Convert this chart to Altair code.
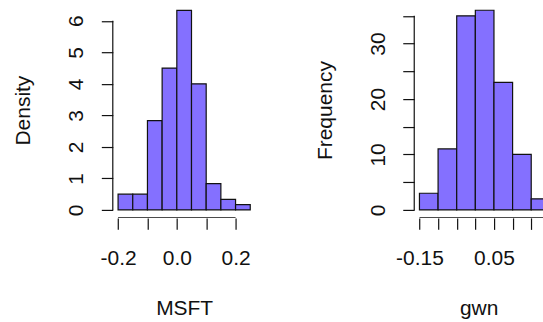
import altair as alt
import pandas as pd

# ---- data ----
msft_bin_start = [-0.20, -0.15, -0.10, -0.05, 0.00, 0.05, 0.10, 0.15, 0.20]
msft_density = [0.5, 0.5, 2.8333, 4.5, 6.3333, 4.0, 0.8333, 0.3333, 0.1667]
gwn_bin_start = [-0.15, -0.10, -0.05, 0.00, 0.05, 0.10, 0.15]
gwn_count = [3, 11, 35, 36, 23, 10, 2]
bin_width = 0.05

msft_x_ticks = [-0.2, -0.1, 0.0, 0.1, 0.2]
msft_x_labels = ["-0.2", "", "0.0", "", "0.2"]
msft_y_ticks = [0, 1, 2, 3, 4, 5, 6]
msft_y_labels = ["0", "1", "2", "3", "4", "5", "6"]
gwn_x_ticks = [-0.15, -0.10, -0.05, 0.00, 0.05, 0.10, 0.15]
gwn_x_labels = ["-0.15", "", "", "", "0.05", "", ""]
gwn_y_ticks = [0, 5, 10, 15, 20, 25, 30, 35]
gwn_y_labels = ["0", "", "10", "", "20", "", "30", ""]

FILL = "#8470FF"
FONT = "Liberation Sans"
FS = 21
TICK = 11.5


def label_expr(ticks, labels):
    expr = "''"
    for t, l in reversed(list(zip(ticks, labels))):
        expr = f"datum.value == {t!r} ? '{l}' : ({expr})"
    return expr


def panel(starts, values, xticks, xlabels, yticks, ylabels, xdom, ydom,
          xtitle, ytitle, width, height, xline_end):
    bars = pd.DataFrame({
        "x": starts,
        "x2": [s + bin_width for s in starts],
        "y": values,
    })
    xs = alt.Scale(domain=xdom, nice=False, zero=False)
    ys = alt.Scale(domain=ydom, nice=False, zero=False)
    xaxis = alt.Axis(values=xticks, labelExpr=label_expr(xticks, xlabels),
                     domain=False, grid=False, tickSize=TICK, tickColor="#111",
                     tickWidth=1.2, labelFont=FONT, labelFontSize=FS,
                     labelColor="#111", labelBaseline="alphabetic",
                     labelPadding=35, labelFlush=False, labelOverlap=False,
                     title=xtitle, titleFont=FONT, titleFontSize=FS,
                     titleFontWeight="normal", titleColor="#111",
                     titleBaseline="alphabetic", titleY=97)
    yaxis = alt.Axis(values=yticks, labelExpr=label_expr(yticks, ylabels),
                     domain=False, grid=False, tickSize=TICK, tickColor="#111",
                     tickWidth=1.2, labelFont=FONT, labelFontSize=FS,
                     labelColor="#111", labelAngle=270, labelAlign="center",
                     labelBaseline="alphabetic", labelPadding=18.5,
                     labelFlush=False, labelOverlap=False,
                     title=ytitle, titleFont=FONT, titleFontSize=FS,
                     titleFontWeight="normal", titleColor="#111",
                     titleAngle=270, titleAlign="center",
                     titleBaseline="alphabetic", titleX=-83)
    bar = alt.Chart(bars).mark_bar(
        fill=FILL, stroke="#111", strokeWidth=1.2, clip=True
    ).encode(
        x=alt.X("x:Q", scale=xs, axis=xaxis),
        x2="x2:Q",
        y=alt.Y("y:Q", scale=ys, axis=yaxis),
        y2=alt.datum(0),
    )
    yline = alt.Chart(pd.DataFrame({"x": [xdom[0]], "y": [yticks[0]], "y2": [yticks[-1]]})).mark_rule(
        color="#111", strokeWidth=1.2
    ).encode(x=alt.X("x:Q", scale=xs, axis=xaxis),
             y=alt.Y("y:Q", scale=ys, axis=yaxis), y2="y2:Q")
    xline = alt.Chart(pd.DataFrame({"y": [ydom[0]], "x": [xticks[0]], "x2": [xline_end]})).mark_rule(
        color="#111", strokeWidth=1.2, clip=True
    ).encode(y=alt.Y("y:Q", scale=ys, axis=yaxis),
             x=alt.X("x:Q", scale=xs, axis=xaxis), x2="x2:Q")
    return alt.layer(bar, yline, xline).properties(width=width, height=height)


left = panel(msft_bin_start, msft_density, msft_x_ticks, msft_x_labels,
             msft_y_ticks, msft_y_labels, [-0.218, 0.268], [-0.2533, 6.5867],
             "MSFT", "Density", 143, 216, 0.2)
right = panel(gwn_bin_start, gwn_count, gwn_x_ticks, gwn_x_labels,
              gwn_y_ticks, gwn_y_labels, [-0.164, 0.1816], [-1.44, 37.44],
              "gwn", "Frequency", 129, 216, 0.2)

chart = alt.hconcat(left, right, spacing=159, bounds="flush").properties(
    padding={"left": 13, "top": 2, "right": 0, "bottom": 0},
    background="white",
).configure_view(stroke=None)

chart.save("out.html", embed_options={"renderer": "svg", "actions": False})
